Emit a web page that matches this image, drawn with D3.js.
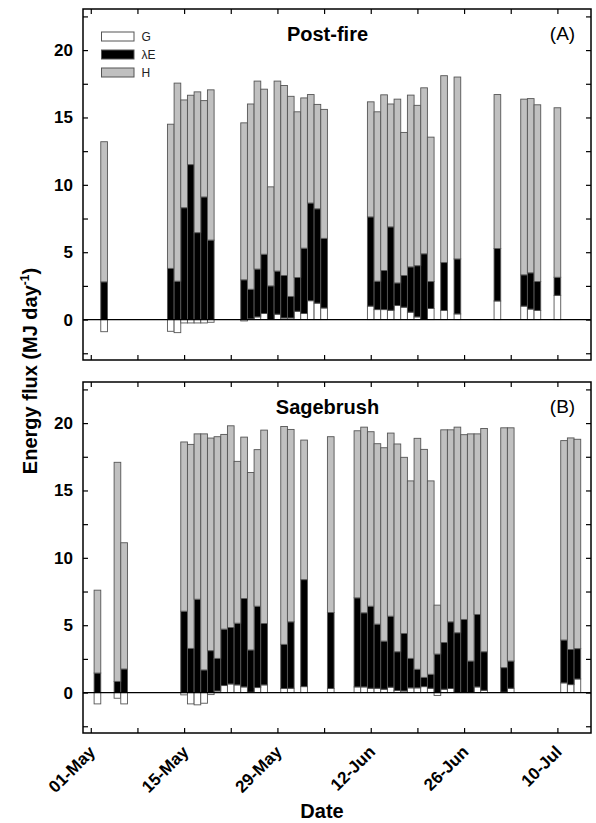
<!DOCTYPE html>
<html>
<head>
<meta charset="utf-8">
<script src="https://cdn.jsdelivr.net/npm/d3@7"></script>
<style>
  body { margin: 0; background: #fff; }
  svg { font-family: "Liberation Sans", Arial, sans-serif; }
</style>
</head>
<body>
<div id="chart"></div>
<script>
// Post-fire site (panel A): daily G, latent heat (λE) and sensible heat (H), MJ/day
var postDates = ["05-03", "05-13", "05-14", "05-15", "05-16", "05-17", "05-18", "05-19",
  "05-24", "05-25", "05-26", "05-27", "05-28", "05-29", "05-30", "05-31", "06-01", "06-02",
  "06-03", "06-04", "06-05", "06-12", "06-13", "06-14", "06-15", "06-16", "06-17", "06-18",
  "06-19", "06-20", "06-21", "06-23", "06-25", "07-01", "07-05", "07-06", "07-07", "07-10"];
var postG = [-0.9, -0.87, -0.97, -0.25, -0.25, -0.25, -0.25, -0.2,
  -0.1, 0.05, 0.2, 0.45, 0, 0.4, 0.12, 0.12, 0.62, 0.45,
  1.4, 1.22, 0.86, 1.0, 0.74, 0.74, 0.69, 1.04, 0.92, 0.55,
  0.2, 0, 0.82, 0.67, 0.42, 1.38, 1.0, 0.78, 0.68, 1.8];
var postLE = [2.8, 3.8, 2.85, 8.3, 11.5, 6.45, 9.1, 5.9,
  2.95, 2.2, 3.55, 4.4, 2.5, 3.2, 3.15, 1.6, 2.5, 4.85,
  7.25, 7.0, 5.17, 6.62, 2.11, 2.9, 6.19, 1.68, 2.35, 3.36,
  3.8, 4.88, 2.0, 3.56, 4.08, 3.89, 2.32, 2.69, 2.14, 1.34];
var postH = [10.4, 10.7, 14.7, 8.0, 5.15, 10.45, 7.15, 11.15,
  11.65, 13.75, 13.95, 12.25, 7.35, 14.1, 14.1, 14.85, 12.3, 11.15,
  8.05, 7.75, 9.57, 8.54, 12.57, 13.04, 9.12, 13.64, 10.62, 12.75,
  11.9, 12.32, 10.72, 13.87, 13.5, 11.43, 13.04, 12.93, 13.12, 12.58];

// Sagebrush site (panel B)
var sageDates = ["05-02", "05-05", "05-06", "05-15", "05-16", "05-17", "05-18", "05-19",
  "05-20", "05-21", "05-22", "05-23", "05-24", "05-25", "05-26", "05-27", "05-30", "05-31",
  "06-02", "06-06", "06-10", "06-11", "06-12", "06-13", "06-14", "06-15", "06-16", "06-17",
  "06-18", "06-19", "06-20", "06-21", "06-22", "06-23", "06-24", "06-25", "06-26", "06-27",
  "06-28", "06-29", "07-02", "07-03", "07-11", "07-12", "07-13"];
var sageG = [-0.84, -0.42, -0.84, -0.17, -0.84, -0.91, -0.79, -0.15,
  0.12, 0.52, 0.64, 0.57, 0.42, 0.03, 0.37, 0.57, 0.3, 0.32,
  0.44, 0.3, 0.42, 0.42, 0.32, 0.32, 0.25, 0.4, 0.15, 0.12,
  0.35, 0.35, 0.44, 0.32, -0.22, 0.25, 0.3, 0, 0, 0,
  0.42, 0.17, 0.03, 0.32, 0.72, 0.59, 1.01];
var sageLE = [1.45, 0.83, 1.75, 6.04, 3.28, 6.93, 1.68, 3.11,
  2.42, 4.19, 4.19, 4.58, 6.56, 3.13, 6.04, 4.56, 3.28, 4.93,
  7.94, 5.64, 6.61, 5.5, 6.09, 4.76, 3.57, 5.27, 2.88, 4.27,
  2.19, 1.38, 0.69, 1.04, 2.86, 3.47, 4.95, 4.44, 5.43, 2.34,
  5.38, 2.86, 1.82, 2.02, 3.18, 2.61, 2.25];
var sageH = [6.15, 16.26, 9.37, 12.56, 15.14, 12.27, 17.52, 15.78,
  16.45, 14.45, 14.97, 12.01, 11.98, 13.17, 11.62, 14.35, 16.17, 14.28,
  10.36, 13.05, 12.4, 13.78, 12.95, 13.39, 14.35, 13.59, 15.42, 13.07,
  13.17, 17.14, 16.92, 14.35, 3.63, 15.78, 14.25, 15.26, 13.71, 16.86,
  13.4, 16.57, 17.8, 17.31, 14.8, 15.7, 15.54];

var legendLabels = ["G", "\u03bbE", "H"];
var fills = ["#ffffff", "#000000", "#c0c0c0"];

var svgWidth = 596;
var svgHeight = 823;
var plotLeft = 83;
var plotRight = 591;
var panels = [{ top: 9, bottom: 360 }, { top: 382, bottom: 733 }];
var yDomain = [-3, 23.05];

var svg = d3.select("#chart")
  .append("svg")
  .attr("width", svgWidth)
  .attr("height", svgHeight);

var parseDay = function(s) { return d3.utcParse("%Y-%m-%d")("2007-" + s); };

var x = d3.scaleUtc()
  .domain([new Date(Date.UTC(2007, 3, 29, 20)), new Date(Date.UTC(2007, 6, 15, 1))])
  .range([plotLeft, plotRight]);

var barW = x(parseDay("05-02")) - x(parseDay("05-01"));
var weekTicks = d3.utcDay.range(parseDay("05-01"), parseDay("07-11"), 7);
var fmtDay = d3.utcFormat("%d-%b");
var yTicks = d3.range(-2.5, 23, 2.5);

function drawPanel(p, dates, G, LE, H, title, tag, showDates) {
  var y = d3.scaleLinear().domain(yDomain).range([p.bottom, p.top]);
  var g = svg.append("g");

  var rows = dates.map(function(d, i) {
    var base = Math.max(G[i], 0);
    return {
      date: parseDay(d),
      segs: [
        [Math.min(G[i], 0), Math.max(G[i], 0)],
        [base, base + LE[i]],
        [base + LE[i], base + LE[i] + H[i]]
      ]
    };
  });

  // stacked bars
  [0, 1, 2].forEach(function(k) {
    g.append("g").selectAll("rect")
      .data(rows)
      .enter()
      .append("rect")
      .attr("x", d => x(d.date) - barW / 2)
      .attr("width", barW)
      .attr("y", d => y(d.segs[k][1]))
      .attr("height", d => y(d.segs[k][0]) - y(d.segs[k][1]))
      .attr("fill", fills[k])
      .attr("stroke", "#555")
      .attr("stroke-width", 0.9);
  });

  // zero line
  g.append("line")
    .attr("x1", plotLeft).attr("x2", plotRight)
    .attr("y1", y(0)).attr("y2", y(0))
    .attr("stroke", "#000").attr("stroke-width", 1.2);

  // axes with inward ticks
  var bottomAxis = d3.axisBottom(x).tickValues(weekTicks).tickSize(-5)
    .tickFormat((d, i) => (showDates && i % 2 === 0) ? fmtDay(d) : "");
  var topAxis = d3.axisTop(x).tickValues(weekTicks).tickSize(-5).tickFormat("");
  var leftAxis = d3.axisLeft(y).tickValues(yTicks).tickSize(-5).tickPadding(10)
    .tickFormat(d => (d >= 0 && d % 5 === 0) ? d : "");
  var rightAxis = d3.axisRight(y).tickValues(yTicks).tickSize(-5).tickFormat("");

  var xb = g.append("g").attr("transform", `translate(0,${p.bottom})`).call(bottomAxis);
  g.append("g").attr("transform", `translate(0,${p.top})`).call(topAxis);
  var yl = g.append("g").attr("transform", `translate(${plotLeft},0)`).call(leftAxis);
  g.append("g").attr("transform", `translate(${plotRight},0)`).call(rightAxis);

  g.selectAll(".domain").remove();
  g.selectAll(".tick line").attr("stroke", "#000").attr("stroke-width", 1.2);

  yl.selectAll("text")
    .attr("font-size", "17px")
    .attr("font-weight", "bold")
    .attr("fill", "#000");

  xb.selectAll("text")
    .attr("font-size", "17px")
    .attr("font-weight", "bold")
    .attr("fill", "#000")
    .attr("text-anchor", "end")
    .attr("x", 0)
    .attr("y", 0)
    .attr("dy", 0)
    .attr("transform", "translate(5,20) rotate(-45)");

  // frame
  g.append("rect")
    .attr("x", plotLeft).attr("y", p.top)
    .attr("width", plotRight - plotLeft).attr("height", p.bottom - p.top)
    .attr("fill", "none").attr("stroke", "#000").attr("stroke-width", 1.5);

  g.append("text")
    .attr("x", 327.5).attr("y", p.top + 31.5)
    .attr("text-anchor", "middle")
    .attr("font-size", "20px").attr("font-weight", "bold")
    .text(title);

  g.append("text")
    .attr("x", 562.5).attr("y", p.top + 31)
    .attr("text-anchor", "middle")
    .attr("font-size", "19px")
    .text(tag);

  return y;
}

drawPanel(panels[0], postDates, postG, postLE, postH, "Post-fire", "(A)", false);
drawPanel(panels[1], sageDates, sageG, sageLE, sageH, "Sagebrush", "(B)", true);

// legend (panel A)
var legend = svg.append("g").attr("transform", "translate(101.5,32)");
legendLabels.forEach(function(lab, i) {
  legend.append("rect")
    .attr("x", 0).attr("y", i * 18)
    .attr("width", 32.5).attr("height", 9)
    .attr("fill", fills[i])
    .attr("stroke", "#555").attr("stroke-width", 1);
  legend.append("text")
    .attr("x", 40).attr("y", i * 18 + 9)
    .attr("font-size", "12px")
    .attr("fill", "#222")
    .text(lab);
});

// axis titles
var yTitle = svg.append("text")
  .attr("transform", "translate(37,371) rotate(-90)")
  .attr("text-anchor", "middle")
  .attr("font-size", "20px")
  .attr("font-weight", "bold");
yTitle.append("tspan").text("Energy flux (MJ day");
yTitle.append("tspan").attr("font-size", "12px").attr("dy", -8).text("-1");
yTitle.append("tspan").attr("dy", 8).text(")");

svg.append("text")
  .attr("x", 322).attr("y", 818)
  .attr("text-anchor", "middle")
  .attr("font-size", "20px")
  .attr("font-weight", "bold")
  .text("Date");
</script>
</body>
</html>
